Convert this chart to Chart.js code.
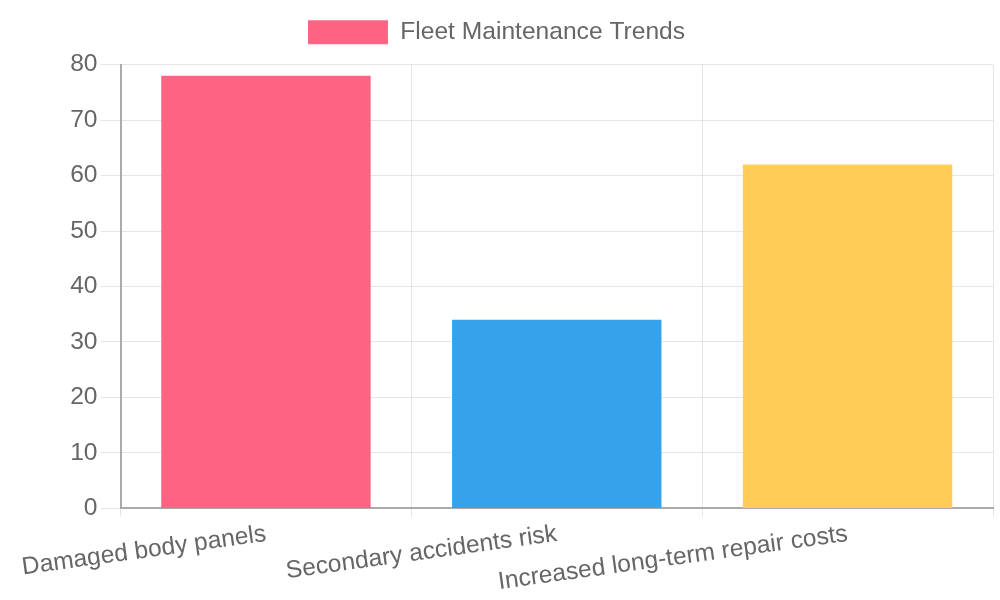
<!DOCTYPE html>
<html>
<head>
<meta charset="utf-8">
<script src="https://cdn.jsdelivr.net/npm/chart.js@4"></script>
<style>
  html, body { margin: 0; padding: 0; background: #fff; }
  #wrap { width: 1000px; height: 600px; }
</style>
</head>
<body>
<div id="wrap"><canvas id="chart"></canvas></div>
<script>
var CATEGORIES = ['Damaged body panels', 'Secondary accidents risk', 'Increased long-term repair costs'];
var VALUES = [78, 34, 62];
var BAR_COLORS = ['#FF6384', '#36A2EB', '#FFCD56'];
var SERIES_LABEL = 'Fleet Maintenance Trends';

Chart.defaults.font.family = '"Liberation Sans", Arial, sans-serif';
Chart.defaults.font.size = 24.6;
Chart.defaults.color = '#666';

// a bit more room under the legend
var legendGap = {
    id: 'legendGap',
    beforeInit: function (chart) {
        var fit = chart.legend.fit;
        chart.legend.fit = function () {
            fit.call(this);
            this.height += 10;
        };
    }
};

new Chart(document.getElementById('chart'), {
    type: 'bar',
    data: {
        labels: CATEGORIES,
        datasets: [{ label: SERIES_LABEL, data: VALUES, backgroundColor: BAR_COLORS, borderWidth: 0 }]
    },
    options: {
        responsive: true, maintainAspectRatio: false, animation: false,
        layout: { padding: { right: 7 } },
        plugins: { legend: { labels: { boxWidth: 80, boxHeight: 24, padding: 20 } } },
        scales: {
            x: { grid: { color: 'rgba(0,0,0,0.1)', tickLength: 8 }, border: { color: '#aaa', width: 2 } },
            y: {
                beginAtZero: true, max: 80, ticks: { stepSize: 10 },
                grid: { color: 'rgba(0,0,0,0.1)', tickLength: 20 }, border: { color: '#aaa', width: 2 },
                afterFit: function (scale) { scale.width = 115; }
            }
        }
    },
    plugins: [legendGap]
});
</script>
</body>
</html>
